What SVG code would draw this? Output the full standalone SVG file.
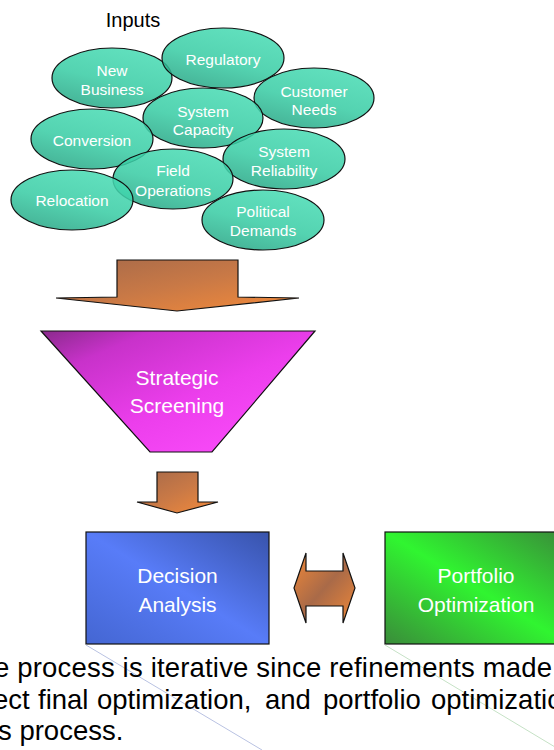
<svg xmlns="http://www.w3.org/2000/svg" width="554" height="750" viewBox="0 0 554 750">
  <style>
    .bubble { stroke: #111; stroke-width: 1.2; fill: url(#gTeal); fill-opacity: 0.86; }
    .btxt { font-family: "Liberation Sans", Arial, sans-serif; font-size: 15.5px; fill: #ffffff; text-anchor: middle; }
    .big { font-family: "Liberation Sans", Arial, sans-serif; font-size: 21px; fill: #ffffff; text-anchor: middle; }
    .body { font-family: "Liberation Sans", Arial, sans-serif; font-size: 27.5px; fill: #000000; }
    .edge { stroke: #111; stroke-width: 1.2; stroke-linejoin: miter; }
  </style>
  <defs>
    <linearGradient id="gTeal" x1="0.75" y1="0" x2="0.25" y2="1">
      <stop offset="0" stop-color="#48dcb4"/>
      <stop offset="0.55" stop-color="#38cca4"/>
      <stop offset="1" stop-color="#27a685"/>
    </linearGradient>
    <linearGradient id="gOrange" x1="0" y1="0" x2="1" y2="1">
      <stop offset="0" stop-color="#a5694a"/>
      <stop offset="0.5" stop-color="#c97946"/>
      <stop offset="1" stop-color="#f58b3a"/>
    </linearGradient>
    <linearGradient id="gOrange2" x1="0" y1="0" x2="1" y2="1">
      <stop offset="0" stop-color="#f08838"/>
      <stop offset="0.5" stop-color="#a96a48"/>
      <stop offset="1" stop-color="#f08838"/>
    </linearGradient>
    <linearGradient id="gMagenta" x1="0" y1="0" x2="1" y2="1">
      <stop offset="0" stop-color="#8a2a8c"/>
      <stop offset="0.2" stop-color="#c832ca"/>
      <stop offset="0.55" stop-color="#ec3eec"/>
      <stop offset="1" stop-color="#ff50ff"/>
    </linearGradient>
    <linearGradient id="gBlue" x1="1" y1="0" x2="0" y2="1">
      <stop offset="0" stop-color="#3853ab"/>
      <stop offset="0.5" stop-color="#587cf8"/>
      <stop offset="1" stop-color="#4466d2"/>
    </linearGradient>
    <linearGradient id="gGreen" x1="1" y1="0" x2="0" y2="1">
      <stop offset="0" stop-color="#3a8a3a"/>
      <stop offset="0.5" stop-color="#30f530"/>
      <stop offset="1" stop-color="#3a8c3a"/>
    </linearGradient>
  </defs>

  <!-- heading -->
  <text x="133" y="27" font-family="Liberation Sans, Arial, sans-serif" font-size="20" fill="#000" text-anchor="middle">Inputs</text>

  <!-- input bubbles -->
  <g id="new-business">
    <ellipse class="bubble" cx="112" cy="78" rx="60" ry="30"/>
    <text class="btxt" x="112" y="76">New</text>
    <text class="btxt" x="112" y="95">Business</text>
  </g>
  <g id="regulatory">
    <ellipse class="bubble" cx="223" cy="58" rx="61" ry="30"/>
    <text class="btxt" x="223" y="65">Regulatory</text>
  </g>
  <g id="customer-needs">
    <ellipse class="bubble" cx="314" cy="98" rx="60" ry="30"/>
    <text class="btxt" x="314" y="97">Customer</text>
    <text class="btxt" x="314" y="115">Needs</text>
  </g>
  <g id="system-capacity">
    <ellipse class="bubble" cx="203" cy="118" rx="60" ry="30"/>
    <text class="btxt" x="203" y="117">System</text>
    <text class="btxt" x="203" y="135">Capacity</text>
  </g>
  <g id="conversion">
    <ellipse class="bubble" cx="92" cy="139" rx="61" ry="30"/>
    <text class="btxt" x="92" y="146">Conversion</text>
  </g>
  <g id="system-reliability">
    <ellipse class="bubble" cx="284" cy="159" rx="61" ry="30"/>
    <text class="btxt" x="284" y="157">System</text>
    <text class="btxt" x="284" y="176">Reliability</text>
  </g>
  <g id="field-operations">
    <ellipse class="bubble" cx="173" cy="179" rx="60" ry="30"/>
    <text class="btxt" x="173" y="176">Field</text>
    <text class="btxt" x="173" y="196">Operations</text>
  </g>
  <g id="relocation">
    <ellipse class="bubble" cx="72" cy="200" rx="61" ry="30"/>
    <text class="btxt" x="72" y="206">Relocation</text>
  </g>
  <g id="political-demands">
    <ellipse class="bubble" cx="263" cy="220" rx="61" ry="30"/>
    <text class="btxt" x="263" y="217">Political</text>
    <text class="btxt" x="263" y="236">Demands</text>
  </g>

  <!-- screening funnel -->
  <g id="strategic-screening">
    <polygon class="edge" points="41,331 315,331 212,452 150,452" fill="url(#gMagenta)"/>
    <text class="big" x="177" y="385" font-size="20.5">Strategic</text>
    <text class="big" x="177" y="413" font-size="20.5">Screening</text>
  </g>

  <!-- analysis boxes -->
  <g id="decision-analysis">
    <rect class="edge" x="86" y="532" width="183" height="112" fill="url(#gBlue)"/>
    <text class="big" x="177.5" y="583">Decision</text>
    <text class="big" x="177.5" y="612">Analysis</text>
  </g>
  <g id="portfolio-optimization">
    <rect class="edge" x="385" y="532" width="183" height="112" fill="url(#gGreen)"/>
    <text class="big" x="476" y="583">Portfolio</text>
    <text class="big" x="476" y="612">Optimization</text>
  </g>

  <!-- block arrows between stages -->
  <g id="connectors">
    <polygon class="edge" points="117,260 238,260 238,297 299,298 177,311 56,298 117,297" fill="url(#gOrange)"/>
    <polygon class="edge" points="157,472 198,472 198,502 218,502 177,513 137,502 157,502" fill="url(#gOrange)"/>
    <polygon class="edge" points="294,588 306,553 306,571 343,571 343,553 355,588 343,623 343,606 306,606 306,623" fill="url(#gOrange2)"/>
  </g>

  <!-- faint corner trails below the boxes -->
  <line x1="86" y1="645" x2="262" y2="750" stroke="#b9c2e2" stroke-width="1"/>
  <line x1="385" y1="645" x2="560" y2="750" stroke="#c6e2c6" stroke-width="1"/>

  <!-- caption -->
  <text class="body" x="-6" y="677" textLength="558" lengthAdjust="spacing">e process is iterative since refinements made</text>
  <text class="body" y="709"><tspan x="-7">ect</tspan><tspan x="38">final</tspan><tspan x="97">optimization,</tspan><tspan x="265">and</tspan><tspan x="323">portfolio</tspan><tspan x="431">optimizatio</tspan></text>
  <text class="body" x="-2" y="740">s process.</text>
</svg>
